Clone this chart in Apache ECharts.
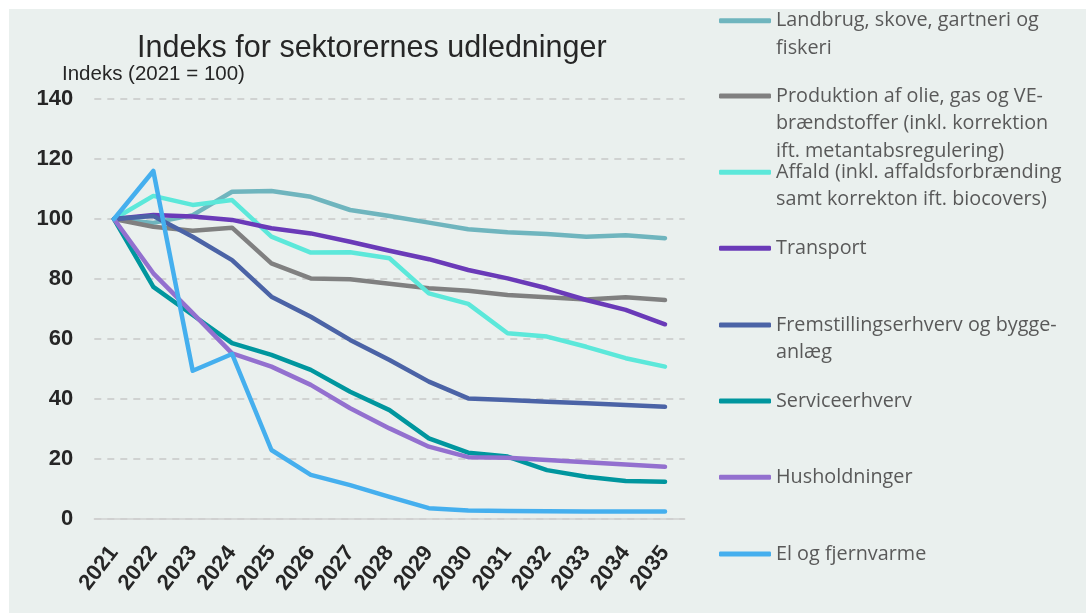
<!DOCTYPE html>
<html>
<head>
<meta charset="utf-8">
<script src="https://cdn.jsdelivr.net/npm/echarts@6/dist/echarts.min.js"></script>
<style>
html,body{margin:0;padding:0;background:#ffffff;}
#c{width:1086px;height:613px;}
</style>
</head>
<body>
<div id="c"></div>
<script>
const years = ['2021','2022','2023','2024','2025','2026','2027','2028','2029','2030','2031','2032','2033','2034','2035'];

const landbrug     = [100, 98.7, 101.3, 109.1, 109.3, 107.4, 103.0, 101.0, 98.8, 96.6, 95.6, 95.0, 94.1, 94.6, 93.6];
const produktion   = [100, 97.4, 96.1, 97.1, 85.2, 80.2, 79.9, 78.4, 76.9, 76.1, 74.7, 73.9, 73.2, 73.9, 73.0];
const affald       = [100, 107.7, 104.7, 106.3, 94.1, 88.8, 88.9, 86.9, 75.2, 71.7, 61.9, 60.8, 57.4, 53.6, 50.8];
const transport    = [100, 101.3, 100.8, 99.7, 96.9, 95.2, 92.4, 89.4, 86.6, 83.0, 80.2, 76.9, 73.0, 69.7, 64.9];
const fremstilling = [100, 101.0, 94.1, 86.3, 74.1, 67.4, 59.7, 53.0, 45.8, 40.2, 39.7, 39.1, 38.6, 38.0, 37.4];
const service      = [100, 77.4, 68.0, 58.6, 54.7, 49.7, 42.4, 36.3, 26.9, 22.1, 20.8, 16.3, 14.1, 12.7, 12.4];
const husholdning  = [100, 81.9, 68.6, 55.2, 50.8, 44.7, 36.9, 30.2, 24.1, 20.6, 20.4, 19.7, 18.9, 18.2, 17.4];
const elFjernvarme = [100, 116.0, 49.4, 55.0, 23.0, 14.7, 11.3, 7.4, 3.6, 2.8, 2.7, 2.6, 2.5, 2.5, 2.5];

const seriesNames = [
  'Landbrug, skove, gartneri og fiskeri',
  'Produktion af olie, gas og VE-brændstoffer (inkl. korrektion ift. metantabsregulering)',
  'Affald (inkl. affaldsforbrænding samt korrekton ift. biocovers)',
  'Transport',
  'Fremstillingserhverv og bygge-anlæg',
  'Serviceerhverv',
  'Husholdninger',
  'El og fjernvarme'
];
const legendLabels = [
  'Landbrug, skove, gartneri og\nfiskeri',
  'Produktion af olie, gas og VE-\nbrændstoffer (inkl. korrektion\nift. metantabsregulering)',
  'Affald (inkl. affaldsforbrænding\nsamt korrekton ift. biocovers)',
  'Transport',
  'Fremstillingserhverv og bygge-\nanlæg',
  'Serviceerhverv',
  'Husholdninger',
  'El og fjernvarme'
];
const seriesData = [landbrug, produktion, affald, transport, fremstilling, service, husholdning, elFjernvarme];
const colors = ['#6FB5BE', '#808080', '#5CE8DA', '#6A3AB8', '#4B63A6', '#00969E', '#9370CF', '#45AFEE'];
const legendIconY = [20.7, 96, 172.3, 248.3, 325, 401, 477.3, 554];
const yTicks = {min: 0, max: 140, interval: 20};

const LH = 27.5;
const legends = seriesNames.map(function (name, i) {
  const n = legendLabels[i].split('\n').length;
  // pad with blank lines on top so the icon sits beside the first text line
  const padded = new Array(n).join(' \n') + legendLabels[i];
  return {
    left: 719,
    top: legendIconY[i] - (2 * n - 1) * LH / 2,
    padding: 0,
    orient: 'vertical',
    itemWidth: 52,
    itemHeight: 5,
    icon: 'roundRect',
    selectedMode: false,
    data: [name],
    formatter: function () { return padded; },
    textStyle: {
      fontFamily: 'Open Sans',
      fontSize: 19.8,
      color: '#595959',
      lineHeight: LH
    }
  };
});

const chart = echarts.init(document.getElementById('c'), null, {renderer: 'canvas'});
chart.setOption({
  backgroundColor: '#EAF0EE',
  animation: false,
  color: colors,
  title: [{
    text: 'Indeks for sektorernes udledninger',
    left: 137,
    top: 33,
    padding: 0,
    textStyle: {fontFamily: 'Liberation Sans', fontSize: 30.5, fontWeight: 'normal', color: '#262626'}
  }, {
    text: 'Indeks (2021 = 100)',
    left: 62,
    top: 64,
    padding: 0,
    textStyle: {fontFamily: 'Liberation Sans', fontSize: 20.5, fontWeight: 'normal', color: '#262626'}
  }],
  graphic: [
    {type: 'rect', left: 0, top: 0, shape: {width: 1086, height: 9}, style: {fill: '#ffffff'}, silent: true},
    {type: 'rect', left: 0, top: 0, shape: {width: 9, height: 613}, style: {fill: '#ffffff'}, silent: true}
  ],
  legend: legends,
  grid: {left: 94.3, right: 401.3, top: 99, bottom: 94, containLabel: false},
  xAxis: {
    type: 'category',
    data: years,
    boundaryGap: true,
    axisLine: {show: true, lineStyle: {color: '#D0D0D0', width: 1.5}},
    axisTick: {show: false},
    axisLabel: {
      rotate: 52,
      interval: 0,
      margin: 30,
      fontFamily: 'Liberation Sans',
      fontSize: 22,
      fontWeight: 'bold',
      color: '#262626'
    },
    splitLine: {show: false}
  },
  yAxis: {
    type: 'value',
    min: yTicks.min,
    max: yTicks.max,
    interval: yTicks.interval,
    axisLine: {show: false},
    axisTick: {show: false},
    axisLabel: {
      margin: 21,
      fontFamily: 'Liberation Sans',
      fontSize: 22,
      fontWeight: 'bold',
      color: '#262626'
    },
    splitLine: {show: true, lineStyle: {color: '#C8C8C8', width: 1.5, type: [7, 6]}}
  },
  series: seriesNames.map(function (name, i) {
    return {
      name: name,
      type: 'line',
      data: seriesData[i],
      symbol: 'none',
      lineStyle: {width: 4.5, color: colors[i], cap: 'round', join: 'round'},
      itemStyle: {color: colors[i]}
    };
  })
});
</script>
</body>
</html>
